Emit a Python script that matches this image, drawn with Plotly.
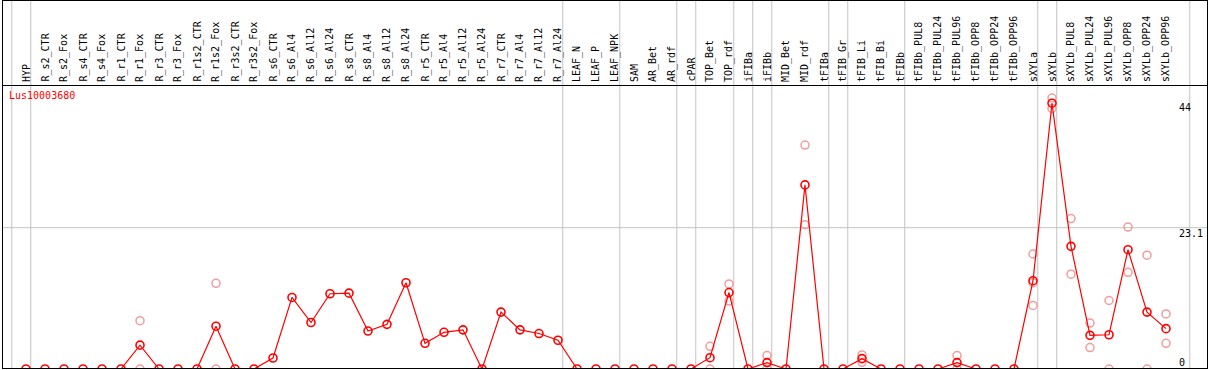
import plotly.graph_objects as go

categories = [
    "HYP", "R_s2_CTR", "R_s2_Fox", "R_s4_CTR", "R_s4_Fox", "R_r1_CTR", "R_r1_Fox",
    "R_r3_CTR", "R_r3_Fox", "R_r1s2_CTR", "R_r1s2_Fox", "R_r3s2_CTR", "R_r3s2_Fox",
    "R_s6_CTR", "R_s6_Al4", "R_s6_Al12", "R_s6_Al24", "R_s8_CTR", "R_s8_Al4",
    "R_s8_Al12", "R_s8_Al24", "R_r5_CTR", "R_r5_Al4", "R_r5_Al12", "R_r5_Al24",
    "R_r7_CTR", "R_r7_Al4", "R_r7_Al12", "R_r7_Al24", "LEAF_N", "LEAF_P", "LEAF_NPK",
    "SAM", "AR_Bet", "AR_rdf", "cPAR", "TOP_Bet", "TOP_rdf", "iFIBa", "iFIBb",
    "MID_Bet", "MID_rdf", "tFIBa", "tFIB_Gr", "tFIB_Li", "tFIB_Bi", "tFIBb",
    "tFIBb_PUL8", "tFIBb_PUL24", "tFIBb_PUL96", "tFIBb_OPP8", "tFIBb_OPP24",
    "tFIBb_OPP96", "sXYLa", "sXYLb", "sXYLb_PUL8", "sXYLb_PUL24", "sXYLb_PUL96",
    "sXYLb_OPP8", "sXYLb_OPP24", "sXYLb_OPP96",
]

mean_values = [
    0, 0, 0, 0, 0, 0, 3.9, 0, 0, 0, 7.0, 0, 0,
    1.8, 11.7, 7.6, 12.3, 12.4, 6.2, 7.3, 14.1, 4.2, 6.0, 6.4, 0,
    9.3, 6.4, 5.8, 4.7, 0, 0, 0,
    0, 0, 0, 0, 1.85, 12.5, 0, 1.05,
    0, 30.1, 0, 0, 1.7, 0, 0,
    0, 0, 1.05, 0, 0, 0,
    14.43, 43.45, 20.05, 5.5, 5.6, 19.5, 9.3, 6.6,
]

# replicate values (None = no visible replicate marker)
rep_a = [None] * 61
rep_b = [None] * 61
rep_c = [None] * 61
rep_pairs = {
    "R_r1_Fox": (7.9, 0), "R_r1s2_Fox": (14.0, 0), "TOP_Bet": (3.7, 0),
    "TOP_rdf": (13.9, 11.1), "iFIBb": (2.2, 0), "MID_rdf": (36.6, 23.6),
    "tFIB_Li": (2.3, 1.1), "tFIBb_PUL96": (2.2, 0), "sXYLa": (18.8, 10.4, 14.1),
    "sXYLb": (44.3, 42.6), "sXYLb_PUL8": (24.6, 15.5), "sXYLb_PUL24": (7.5, 3.5),
    "sXYLb_PUL96": (11.2, 0), "sXYLb_OPP8": (23.2, 15.8), "sXYLb_OPP24": (18.6, 0),
    "sXYLb_OPP96": (9.0, 4.2),
}
for name, vals in rep_pairs.items():
    i = categories.index(name)
    rep_a[i] = vals[0]
    rep_b[i] = vals[1]
    if len(vals) > 2:
        rep_c[i] = vals[2]

# number of samples in each vertical-line separated group
group_sizes = [1, 28, 3, 3, 1, 2, 1, 1, 3, 1, 3, 7, 1, 7]

gene_label = "Lus10003680"
y_tick_labels = ["44", "23.1", "0"]
y_tick_values = [44, 23.1, 0]

# ---- layout geometry (pixels) ----
W, H = 1209, 370
L, R, T, B = 2, 1208, 85, 369
first_px, step_px = 26, 19
xmin = -(first_px - L) / step_px
xmax = (len(categories) - 1) + (R - (first_px + step_px * (len(categories) - 1))) / step_px
px_per_unit = 6.117
ymax = (B - T) / px_per_unit


def xp(px):
    return (px - L) / (R - L)


def yp(py):
    return (B - py) / (B - T)


x_idx = list(range(len(categories)))
mono = "DejaVu Sans Mono"
red = "#FF0000"
pink = "#F29C9C"

fig = go.Figure()
for reps in (rep_a, rep_b, rep_c):
    fig.add_trace(go.Scatter(
        x=x_idx, y=reps, mode="markers",
        marker=dict(symbol="circle-open", size=8, color=pink, line=dict(width=1.5, color=pink)),
        hoverinfo="skip", showlegend=False,
    ))
fig.add_trace(go.Scatter(
    x=x_idx, y=mean_values, mode="lines+markers",
    line=dict(color=red, width=1.2),
    marker=dict(symbol="circle-open", size=8, color=red, line=dict(width=1.6, color=red)),
    showlegend=False,
))

shapes = []
grid = "#C3C3C3"
# vertical separators
pos = -1
bounds = [pos]
for g in group_sizes:
    pos += g
    bounds.append(pos)
for b in bounds:
    shapes.append(dict(type="line", xref="x", yref="paper", x0=b + 0.25, x1=b + 0.25,
                       y0=0, y1=yp(0), line=dict(color=grid, width=1), layer="below"))
# horizontal gridline at 23.1
shapes.append(dict(type="line", xref="paper", yref="y", x0=0, x1=1, y0=23.1, y1=23.1,
                   line=dict(color=grid, width=1), layer="below"))
# black frame
blk = dict(color="black", width=1)
shapes += [
    dict(type="line", xref="paper", yref="paper", x0=xp(2.5), x1=xp(2.5), y0=yp(368.5), y1=yp(0.5), line=blk),
    dict(type="line", xref="paper", yref="paper", x0=xp(1207.5), x1=xp(1207.5), y0=yp(368.5), y1=yp(0.5), line=blk),
    dict(type="line", xref="paper", yref="paper", x0=xp(2), x1=xp(1208), y0=yp(0.5), y1=yp(0.5), line=blk),
    dict(type="line", xref="paper", yref="paper", x0=xp(2), x1=xp(1208), y0=yp(85.5), y1=yp(85.5), line=blk),
    dict(type="line", xref="paper", yref="paper", x0=xp(2), x1=xp(1208), y0=yp(368.5), y1=yp(368.5), line=blk),
]

annotations = []
for i, name in enumerate(categories):
    annotations.append(dict(
        x=i, xref="x", y=yp(83), yref="paper", text=name, textangle=-90,
        xanchor="center", yanchor="bottom", showarrow=False,
        font=dict(family=mono, size=10, color="black"), borderpad=0,
    ))
annotations.append(dict(
    x=xp(8), xref="paper", y=yp(96), yref="paper", text=gene_label,
    xanchor="left", yanchor="middle", showarrow=False,
    font=dict(family=mono, size=10, color=red), borderpad=0,
))
label_centers = [107, 233, 362]
for txt, cy in zip(y_tick_labels, label_centers):
    annotations.append(dict(
        x=xp(1178), xref="paper", y=yp(cy), yref="paper", text=txt,
        xanchor="left", yanchor="middle", showarrow=False,
        font=dict(family=mono, size=10, color="black"), borderpad=0,
    ))

fig.update_layout(
    width=W, height=H,
    margin=dict(l=L, r=W - R, t=T, b=H - B, pad=0),
    paper_bgcolor="white", plot_bgcolor="white",
    xaxis=dict(range=[xmin, xmax], showgrid=False, zeroline=False, showticklabels=False,
               showline=False, fixedrange=True),
    yaxis=dict(range=[0, ymax], showgrid=False, zeroline=False, showticklabels=False,
               showline=False, fixedrange=True),
    shapes=shapes, annotations=annotations,
)

fig.write_html(
    "out.html",
    config={"displayModeBar": False},
    post_script="document.body.style.margin='0';document.body.style.padding='0';"
                "document.body.style.overflow='hidden';",
)
